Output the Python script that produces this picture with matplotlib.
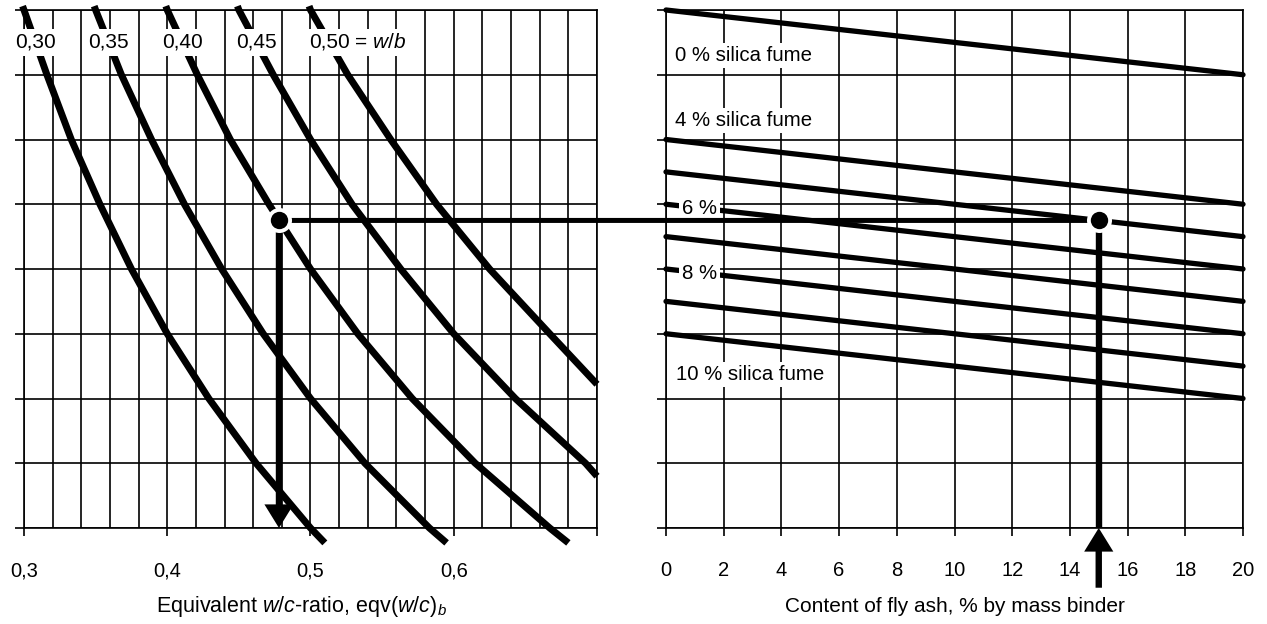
import numpy as np
import matplotlib
matplotlib.use("Agg")
import matplotlib.pyplot as plt
from matplotlib.patches import ConnectionPatch

plt.rcParams['font.family'] = ['Liberation Sans', 'DejaVu Sans']
plt.rcParams['mathtext.fontset'] = 'custom'
plt.rcParams['mathtext.rm'] = 'Liberation Sans'
plt.rcParams['mathtext.it'] = 'Liberation Sans:italic'
plt.rcParams['mathtext.bf'] = 'Liberation Sans:bold'

# ---------------- left nomogram: curves of constant w/b ----------------
wb_labels = ["0,30", "0,35", "0,40", "0,45", "0,50"]

# vertical scale levels (bottom 0.60 ... top 1.00) with the curve ends
levels_full = [0.5885, 0.60, 0.65, 0.70, 0.75, 0.80, 0.85, 0.90, 0.95, 1.00, 1.003]
eqv_030 = [0.510, 0.500, 0.462, 0.429, 0.400, 0.375, 0.353, 0.333, 0.316, 0.300, 0.299]
eqv_035 = [0.595, 0.583, 0.538, 0.500, 0.467, 0.438, 0.412, 0.389, 0.368, 0.350, 0.349]
eqv_040 = [0.680, 0.667, 0.615, 0.571, 0.533, 0.500, 0.471, 0.444, 0.421, 0.400, 0.399]
levels_045 = [0.640, 0.65, 0.70, 0.75, 0.80, 0.85, 0.90, 0.95, 1.00, 1.003]
eqv_045 = [0.700, 0.692, 0.643, 0.600, 0.563, 0.529, 0.500, 0.474, 0.450, 0.449]
levels_050 = [0.711, 0.75, 0.80, 0.85, 0.90, 0.95, 1.00, 1.003]
eqv_050 = [0.700, 0.667, 0.625, 0.588, 0.556, 0.526, 0.500, 0.499]
label_level = 0.975

eqv_ticks = [0.3, 0.4, 0.5, 0.6, 0.7]
eqv_ticklabels = ["0,3", "0,4", "0,5", "0,6", ""]

# ---------------- right nomogram: silica fume lines ----------------
silica_fume = [0, 4, 5, 6, 7, 8, 9, 10]
fly_ash_ends = [0, 20]
level_at_fa0 = [1.000, 0.900, 0.875, 0.850, 0.825, 0.800, 0.775, 0.750]
level_at_fa20 = [0.950, 0.850, 0.825, 0.800, 0.775, 0.750, 0.725, 0.700]

sf_text = ["0 % silica fume", "4 % silica fume", "6 %", "8 %", "10 % silica fume"]
sf_text_fa = [0.30, 0.30, 0.55, 0.55, 0.35]
sf_text_level = [0.965, 0.915, 0.8465, 0.7965, 0.7185]

fa_ticks = [0, 2, 4, 6, 8, 10, 12, 14, 16, 18, 20]
fa_ticklabels = [str(v) for v in fa_ticks]

# ---------------- worked example ----------------
ex_fly_ash = 15
ex_level = 0.8375
ex_eqv = 0.478

GRID_LW = 1.2
FS = 15

fig = plt.figure(figsize=(12.67, 6.24), dpi=100)
axL = fig.add_axes([24 / 1267, 96 / 624, 573 / 1267, 518 / 624])
axR = fig.add_axes([666 / 1267, 96 / 624, 577 / 1267, 518 / 624])

y_grid = np.arange(0.60, 1.0001, 0.05)


def style_axes(ax, xlim, major, majorlabels, minor):
    ax.set_facecolor('none')
    ax.set_xlim(*xlim)
    ax.set_ylim(0.6, 1.0)
    ax.set_xticks(major)
    ax.set_xticklabels(majorlabels)
    ax.set_xticks(minor, minor=True)
    ax.set_yticks(y_grid)
    ax.tick_params(axis='x', which='major', direction='out', length=6,
                   width=GRID_LW, pad=18, labelsize=FS - 0.5)
    ax.tick_params(axis='x', which='minor', length=0)
    ax.tick_params(axis='y', direction='out', length=6.5, width=GRID_LW,
                   labelleft=False)
    ax.grid(True, which='both', color='k', lw=GRID_LW)
    ax.set_axisbelow(True)
    for s in ax.spines.values():
        s.set_linewidth(GRID_LW)


style_axes(axL, (0.3, 0.7), eqv_ticks, eqv_ticklabels, np.arange(0.30, 0.7001, 0.02))
style_axes(axR, (0, 20), fa_ticks, fa_ticklabels, fa_ticks)

# w/b curves
curves = [(levels_full, eqv_030), (levels_full, eqv_035), (levels_full, eqv_040),
          (levels_045, eqv_045), (levels_050, eqv_050)]
label_box = dict(boxstyle='square,pad=0.2', fc='white', ec='none')
for lab, (lv, xs) in zip(wb_labels, curves):
    axL.plot(xs, lv, color='k', lw=5, solid_capstyle='butt', zorder=2, clip_on=False)
    x_at = np.interp(label_level, lv, xs)
    t = axL.text(x_at, label_level, lab, ha='center', va='center', fontsize=FS,
                 bbox=label_box, zorder=6)
    if lab == wb_labels[-1]:
        axL.annotate(' = $w/b$', xy=(1, 0), xycoords=t, ha='left', va='bottom',
                     fontsize=FS, bbox=label_box, zorder=5.9)

# silica fume lines
for a, b in zip(level_at_fa0, level_at_fa20):
    axR.plot(fly_ash_ends, [a, b], color='k', lw=3.8, solid_capstyle='round',
             zorder=2, clip_on=False)
for txt, fx, lv in zip(sf_text, sf_text_fa, sf_text_level):
    axR.text(fx, lv, txt, ha='left', va='center', fontsize=FS - 0.3,
             bbox=dict(boxstyle='square,pad=0.15', fc='white', ec='none'), zorder=6)

# worked example: horizontal link across both panels, arrows and points
link = ConnectionPatch(xyA=(ex_eqv, ex_level), coordsA=axL.transData,
                       xyB=(ex_fly_ash, ex_level), coordsB=axR.transData,
                       lw=3.6, color='k', capstyle='butt', zorder=6.5)
link.set_clip_on(False)
axR.add_artist(link)

arrow = dict(arrowstyle='simple,head_length=17,head_width=21,tail_width=4.6',
             mutation_scale=1, fc='k', ec='none', lw=0, shrinkA=0, shrinkB=0)
axL.annotate('', xy=(ex_eqv, 0.6), xytext=(ex_eqv, ex_level), arrowprops=arrow,
             annotation_clip=False, zorder=4)
axR.plot([ex_fly_ash, ex_fly_ash], [0.6, ex_level], color='k', lw=4.6,
         solid_capstyle='butt', zorder=4)
axR.annotate('', xy=(ex_fly_ash, 0.6), xytext=(0, -43), textcoords='offset points',
             arrowprops=arrow, annotation_clip=False, zorder=4)

# both points are drawn last so their white rims cut the lines around them
for tr, xp in ((axL.transData, ex_eqv), (axR.transData, ex_fly_ash)):
    axR.plot([xp], [ex_level], 'o', ms=18, mfc='white', mec='none', zorder=7,
             clip_on=False, transform=tr)
    axR.plot([xp], [ex_level], 'o', ms=12.5, mfc='k', mec='none', zorder=8,
             clip_on=False, transform=tr)

axL.set_xlabel("Equivalent $w/c$-ratio, eqv($w/c)_b$", fontsize=FS + 0.5)
axR.set_xlabel("Content of fly ash, % by mass binder", fontsize=FS)
axL.xaxis.set_label_coords(0.484, -0.151)
axR.xaxis.set_label_coords(0.50, -0.151)
axL.xaxis.label.set_va('center')
axR.xaxis.label.set_va('center')

fig.savefig("out.png", dpi=100, facecolor='white')
